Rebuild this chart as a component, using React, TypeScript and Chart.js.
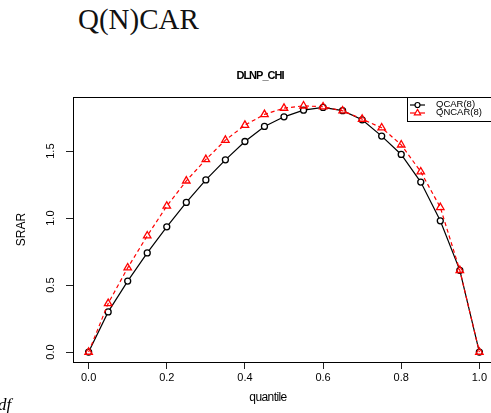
import React, { useEffect, useRef } from "react";
import { Chart, registerables } from "chart.js";

Chart.register(...registerables);

// ---- data ----
const quantiles = [0, 0.05, 0.1, 0.15, 0.2, 0.25, 0.3, 0.35, 0.4, 0.45, 0.5, 0.55, 0.6, 0.65, 0.7, 0.75, 0.8, 0.85, 0.9, 0.95, 1.0];
const qcar = [0, 0.30, 0.53, 0.74, 0.935, 1.117, 1.285, 1.435, 1.572, 1.684, 1.756, 1.806, 1.826, 1.802, 1.734, 1.612, 1.475, 1.269, 0.98, 0.61, 0];
const qncar = [0, 0.363, 0.629, 0.868, 1.09, 1.278, 1.438, 1.582, 1.694, 1.774, 1.821, 1.838, 1.831, 1.801, 1.739, 1.674, 1.547, 1.346, 1.08, 0.61, 0];
const seriesLabels = ["QCAR(8)", "QNCAR(8)"];
const xTicks = [0, 0.2, 0.4, 0.6, 0.8, 1.0];
const yTicks = [0, 0.5, 1.0, 1.5];
const chartTitle = "DLNP_CHI";
const xTitle = "quantile";
const yTitle = "SRAR";

const SANS = '"Liberation Sans", Arial, Helvetica, sans-serif';

const decorPlugin = {
  id: "decor",
  afterDraw(chart: any) {
    const { ctx, chartArea: a } = chart;
    ctx.save();
    // frame
    ctx.strokeStyle = "#000";
    ctx.lineWidth = 1;
    ctx.setLineDash([]);
    ctx.strokeRect(Math.round(a.left) + 0.5, Math.round(a.top) + 0.5, a.right - a.left, a.bottom - a.top);

    // title
    ctx.fillStyle = "#000";
    ctx.textAlign = "center";
    ctx.textBaseline = "middle";
    ctx.font = `bold 11px ${SANS}`;
    (ctx as any).letterSpacing = "-1px";
    ctx.fillText(chartTitle, a.left + (a.right - a.left) * 0.443, a.top - 21);

    // x axis title
    ctx.font = `12px ${SANS}`;
    (ctx as any).letterSpacing = "-0.6px";
    ctx.fillText(xTitle, a.left + (a.right - a.left) * 0.462, a.bottom + 36);
    (ctx as any).letterSpacing = "0px";

    // legend
    const lx = Math.round(a.right - 88);
    const ly = Math.round(a.top);
    ctx.strokeStyle = "#000";
    ctx.lineWidth = 1;
    ctx.strokeRect(lx + 0.5, ly + 0.5, a.right - lx + 20, 24);
    ctx.font = `9.5px ${SANS}`;
    ctx.textAlign = "left";
    chart.data.datasets.forEach((ds: any, i: number) => {
      const y = ly + 8 + i * 8;
      ctx.strokeStyle = ds.borderColor;
      ctx.lineWidth = 1.2;
      ctx.setLineDash([]);
      ctx.beginPath();
      ctx.moveTo(lx + 3, y);
      ctx.lineTo(lx + 18, y);
      ctx.stroke();
      const cx = lx + 10.5;
      ctx.beginPath();
      if (ds.pointStyle === "triangle") {
        const r = 3.6;
        ctx.moveTo(cx, y - r);
        ctx.lineTo(cx + r * 0.866, y + r * 0.5);
        ctx.lineTo(cx - r * 0.866, y + r * 0.5);
        ctx.closePath();
      } else {
        ctx.arc(cx, y, 2.5, 0, Math.PI * 2);
      }
      ctx.fillStyle = "#fff";
      ctx.fill();
      ctx.stroke();
      ctx.fillStyle = "#000";
      ctx.textBaseline = "middle";
      ctx.fillText(ds.label, lx + 29, y - 0.5);
    });
    ctx.restore();
  },
};

export default function App() {
  const canvasRef = useRef<HTMLCanvasElement | null>(null);

  useEffect(() => {
    if (!canvasRef.current) return;
    const tickGrid = {
      display: true,
      drawOnChartArea: false,
      drawTicks: true,
      tickLength: 7,
      color: "#222",
      lineWidth: 1,
    };
    const chart = new Chart(canvasRef.current, {
      type: "line",
      data: {
        datasets: [
          {
            label: seriesLabels[0],
            data: quantiles.map((q, i) => ({ x: q, y: qcar[i] })),
            borderColor: "#000000",
            borderWidth: 1.2,
            pointStyle: "circle",
            pointRadius: 3,
            pointBorderWidth: 1.3,
            pointBorderColor: "#000000",
            pointBackgroundColor: "#ffffff",
            fill: false,
            tension: 0,
            order: 2,
          },
          {
            label: seriesLabels[1],
            data: quantiles.map((q, i) => ({ x: q, y: qncar[i] })),
            borderColor: "#ff0000",
            borderWidth: 1.2,
            borderDash: [4, 3],
            pointStyle: "triangle",
            pointRadius: 4.3,
            pointBorderWidth: 1.3,
            pointBorderColor: "#ff0000",
            pointBackgroundColor: "rgba(255,255,255,0)",
            fill: false,
            tension: 0,
            order: 1,
          },
        ],
      },
      options: {
        animation: false,
        responsive: false,
        devicePixelRatio: 1,
        layout: { padding: { top: 97, right: 25, bottom: 0, left: 0 } },
        plugins: {
          legend: { display: false },
          title: { display: false },
          tooltip: { enabled: false },
        },
        scales: {
          x: {
            type: "linear",
            min: -0.04,
            max: 1.04,
            afterBuildTicks: (s: any) => {
              s.ticks = xTicks.map((v) => ({ value: v }));
            },
            afterFit: (s: any) => {
              s.height = 51;
            },
            grid: tickGrid,
            border: { display: false },
            ticks: {
              color: "#000",
              font: { family: SANS, size: 11 },
              padding: 2,
              minRotation: 0,
              maxRotation: 0,
              callback: (v: any) => Number(v).toFixed(1),
            },
          },
          y: {
            type: "linear",
            min: -0.074,
            max: 1.904,
            afterBuildTicks: (s: any) => {
              s.ticks = yTicks.map((v) => ({ value: v }));
            },
            afterFit: (s: any) => {
              s.width = 73;
            },
            grid: tickGrid,
            border: { display: false },
            ticks: {
              color: "#000",
              font: { family: SANS, size: 11 },
              padding: 7,
              minRotation: 90,
              maxRotation: 90,
              crossAlign: "center",
              callback: (v: any) => Number(v).toFixed(1),
            },
            title: {
              display: true,
              text: yTitle,
              color: "#000",
              font: { family: SANS, size: 12 },
              padding: { top: 14, bottom: 0 },
            },
          },
        },
      },
      plugins: [decorPlugin],
    } as any);
    return () => chart.destroy();
  }, []);

  return (
    <div
      style={{
        position: "fixed",
        left: 0,
        top: 0,
        width: 491,
        height: 413,
        overflow: "hidden",
        background: "#fff",
      }}
    >
      <div
        style={{
          position: "absolute",
          left: 78,
          top: 5,
          fontFamily: '"Liberation Serif", "Times New Roman", serif',
          fontSize: 29,
          lineHeight: "28px",
          whiteSpace: "nowrap",
          color: "#111",
        }}
      >
        Q(N)CAR
      </div>
      <canvas
        ref={canvasRef}
        width={520}
        height={413}
        style={{ position: "absolute", left: 0, top: 0, display: "block" }}
      />
      <div
        style={{
          position: "absolute",
          left: -2,
          top: 396,
          fontFamily: '"Liberation Serif", "Times New Roman", serif',
          fontStyle: "italic",
          fontSize: 17,
          lineHeight: "17px",
          whiteSpace: "nowrap",
          color: "#000",
        }}
      >
        df
      </div>
    </div>
  );
}
